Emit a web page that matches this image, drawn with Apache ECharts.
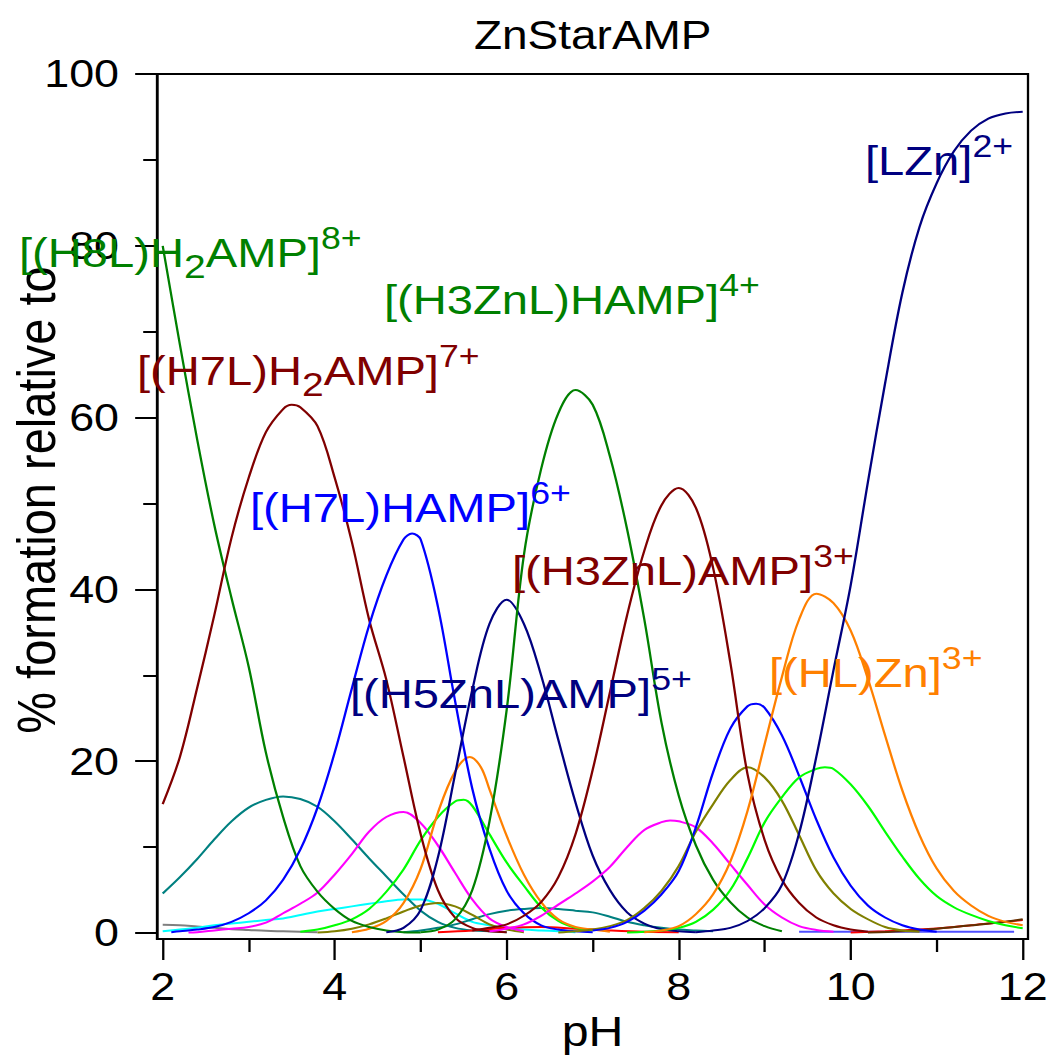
<!DOCTYPE html>
<html>
<head>
<meta charset="utf-8">
<script src="https://cdn.jsdelivr.net/npm/echarts@6/dist/echarts.min.js"></script>
<style>
  html, body { margin: 0; padding: 0; background: #fff; overflow: hidden; }
  /* the original picture is stretched sideways, so the chart is drawn narrower and widened */
  #chart { width: 915px; height: 1064px; transform: scaleX(1.14973); transform-origin: 0 0; }
</style>
</head>
<body>
<div id="chart"></div>
<script>
var SX = 1052 / 915;
function cx(x) { return x / SX; }
var FONT = "'Liberation Sans', Arial, sans-serif";

// axis ticks
var xMajor = [2, 4, 6, 8, 10, 12];
var xMinor = [3, 5, 7, 9, 11];
var yMajor = [0, 20, 40, 60, 80, 100];
var yMinor = [10, 30, 50, 70, 90];

// species curves, [pH, % formation]
var h8lH2amp = [[2.0,80],[2.2,68.5],[2.4,57.5],[2.6,47.5],[2.8,39],[3.0,31],[3.2,21],[3.4,13.5],[3.6,7.8],[3.8,4.8],[4.0,2.8],[4.2,1.4],[4.4,0.7],[4.6,0.3],[4.8,0.1],[5.0,0.05]];
var h7lH2amp = [[2.0,15],[2.2,20.5],[2.4,28.5],[2.6,37],[2.8,46],[3.0,53],[3.2,58.3],[3.4,61],[3.5,61.5],[3.6,61.2],[3.8,59],[4.0,53],[4.2,45.5],[4.4,36.5],[4.6,29.5],[4.8,20.5],[5.0,11.5],[5.2,5],[5.4,1.8],[5.6,0.6],[5.8,0.2],[6.0,0.1]];
var teal1 = [[2.0,4.6],[2.2,6.5],[2.4,8.6],[2.6,10.9],[2.8,13],[3.0,14.6],[3.2,15.5],[3.4,15.9],[3.6,15.6],[3.8,14.7],[4.0,13],[4.2,10.9],[4.4,8.7],[4.6,6.6],[4.8,4.5],[5.0,2.6],[5.2,1.3],[5.4,0.6],[5.6,0.3],[5.8,0.2],[6.0,0.1]];
var teal2 = [[4.8,0.1],[5.0,0.3],[5.2,0.6],[5.4,1.0],[5.6,1.6],[5.8,2.2],[6.0,2.6],[6.2,2.8],[6.4,2.9],[6.6,2.8],[6.8,2.6],[7.0,2.4],[7.2,1.9],[7.4,1.3],[7.6,0.9],[7.8,0.6],[8.0,0.4],[8.2,0.3],[8.4,0.2]];
var gray1 = [[2.0,0.95],[2.2,0.9],[2.4,0.75],[2.6,0.6],[2.8,0.45],[3.0,0.35],[3.2,0.25],[3.4,0.2],[3.6,0.15],[3.8,0.1]];
var h7lHamp = [[2.1,0.1],[2.2,0.2],[2.4,0.4],[2.6,0.7],[2.8,1.3],[3.0,2.3],[3.2,3.8],[3.4,6.2],[3.6,9.7],[3.8,14.6],[4.0,21],[4.2,28.5],[4.4,35.8],[4.6,41.6],[4.8,45.8],[4.9,46.5],[5.0,45.8],[5.2,38],[5.4,27],[5.6,16.8],[5.8,9.8],[6.0,4.9],[6.2,2.3],[6.4,0.9],[6.6,0.4],[6.8,0.2],[7.0,0.1]];
var magenta1 = [[2.3,0.05],[2.4,0.1],[2.6,0.3],[2.8,0.5],[3.0,0.7],[3.2,1.2],[3.4,2.3],[3.6,3.4],[3.8,4.7],[4.0,6.8],[4.2,9.2],[4.4,11.8],[4.6,13.5],[4.8,14.1],[5.0,12.8],[5.2,10.2],[5.4,7],[5.6,3.9],[5.8,1.7],[6.0,0.7],[6.2,0.2]];
var cyan1 = [[2.0,0.2],[2.2,0.4],[2.4,0.6],[2.6,0.9],[2.8,1.1],[3.0,1.3],[3.2,1.5],[3.4,1.7],[3.6,2.1],[3.8,2.5],[4.0,2.8],[4.2,3.1],[4.4,3.4],[4.6,3.7],[4.8,3.9],[5.0,3.9],[5.2,3.4],[5.4,2.3],[5.6,1.3],[5.8,0.9],[6.0,0.6],[6.2,0.4],[6.4,0.3],[6.6,0.2],[6.8,0.1]];
var lime1 = [[3.6,0.15],[3.8,0.4],[4.0,0.9],[4.2,1.6],[4.4,2.8],[4.6,4.8],[4.8,7.4],[5.0,10.8],[5.2,13.5],[5.4,15.3],[5.5,15.5],[5.6,14.8],[5.8,11.5],[6.0,8.2],[6.2,5.5],[6.4,3.0],[6.6,1.4],[6.8,0.6],[7.0,0.3]];
var orange1 = [[4.2,0.1],[4.4,0.5],[4.6,1.4],[4.8,3.5],[5.0,7.5],[5.2,14],[5.4,18.8],[5.57,20.5],[5.7,19.3],[5.8,16.7],[6.0,11.3],[6.2,6.8],[6.4,3.6],[6.6,1.6],[6.8,0.7],[7.0,0.4],[7.2,0.15]];
var olive1 = [[3.8,0.05],[4.0,0.2],[4.2,0.5],[4.4,1.0],[4.6,1.7],[4.8,2.5],[5.0,3.2],[5.2,3.5],[5.4,3.1],[5.6,2.1],[5.8,1.0],[6.0,0.4],[6.2,0.1]];
var h5znlAmp = [[4.6,0.1],[4.8,0.6],[5.0,2.7],[5.2,8.8],[5.4,18.5],[5.6,28.3],[5.8,36],[6.0,38.8],[6.2,36],[6.4,30],[6.6,22.5],[6.8,15.2],[7.0,9],[7.2,5.0],[7.4,2.4],[7.6,1.1],[7.8,0.45],[8.0,0.2],[8.2,0.1]];
var h3znlHamp = [[5.0,0.1],[5.2,0.4],[5.4,1.6],[5.6,5.0],[5.8,13],[6.0,26],[6.2,44],[6.4,54],[6.6,60.5],[6.8,63.2],[7.0,61.5],[7.2,55.5],[7.4,47],[7.6,36.5],[7.8,24.5],[8.0,16],[8.2,10.2],[8.4,6.2],[8.6,3.6],[8.8,1.8],[9.0,0.8],[9.2,0.2]];
var h3znlAmp = [[5.6,0.3],[5.8,0.6],[6.0,1.0],[6.2,2.0],[6.4,3.6],[6.6,6.5],[6.8,11.5],[7.0,19],[7.2,28],[7.4,37],[7.6,44.5],[7.8,49.8],[8.0,51.8],[8.2,49.5],[8.4,42.5],[8.6,31.5],[8.8,18.5],[9.0,10.8],[9.2,6.2],[9.4,3.5],[9.6,1.8],[9.8,0.9],[10.0,0.4],[10.2,0.15]];
var magenta2 = [[5.8,0.2],[6.0,0.5],[6.2,1.0],[6.4,2.0],[6.6,3.3],[6.8,4.6],[7.0,6.0],[7.2,7.7],[7.4,10.0],[7.6,12.0],[7.8,12.9],[7.9,13.1],[8.0,13.0],[8.2,12.3],[8.4,10.4],[8.6,8.0],[8.8,5.6],[9.0,3.3],[9.2,1.8],[9.4,0.8],[9.6,0.35],[9.8,0.15]];
var blue2 = [[7.0,0.3],[7.2,0.6],[7.4,1.3],[7.6,2.6],[7.8,4.5],[8.0,7.2],[8.2,12.3],[8.4,18.7],[8.6,23.8],[8.8,26.4],[8.9,26.7],[9.0,26.2],[9.2,23],[9.4,18.3],[9.6,13.2],[9.8,8.8],[10.0,5.5],[10.2,3.2],[10.4,1.8],[10.6,0.9],[10.8,0.4],[11.0,0.15]];
var olive2 = [[6.6,0.05],[6.8,0.2],[7.0,0.4],[7.2,0.8],[7.4,1.5],[7.6,2.9],[7.8,4.9],[8.0,7.8],[8.2,11.8],[8.4,15],[8.6,17.8],[8.8,19.3],[9.0,18.1],[9.2,15.4],[9.4,11.4],[9.6,7.3],[9.8,4.6],[10.0,2.8],[10.2,1.6],[10.4,0.7],[10.6,0.3],[10.8,0.15]];
var hlZn = [[7.6,0.1],[7.8,0.3],[8.0,0.8],[8.2,2.2],[8.4,4.5],[8.6,8.3],[8.8,14.2],[9.0,22],[9.2,29.8],[9.4,36.5],[9.6,39.5],[9.8,38.4],[10.0,35.2],[10.2,29.6],[10.4,23],[10.6,16.6],[10.8,11.4],[11.0,7.5],[11.2,4.9],[11.4,3.2],[11.6,2.0],[11.8,1.3],[12.0,0.9]];
var lime2 = [[7.4,0.05],[7.6,0.15],[7.8,0.3],[8.0,0.6],[8.2,1.3],[8.4,2.7],[8.6,5],[8.8,8.7],[9.0,12.9],[9.2,15.8],[9.4,18.1],[9.6,19.1],[9.7,19.3],[9.8,19.1],[10.0,17.3],[10.2,14.8],[10.4,11.8],[10.6,8.9],[10.8,6.3],[11.0,4.3],[11.2,3.0],[11.4,2.1],[11.6,1.4],[11.8,0.9],[12.0,0.55]];
var lZn = [[8.2,0.1],[8.4,0.3],[8.6,0.6],[8.8,1.4],[9.0,2.9],[9.2,5.6],[9.4,11.6],[9.6,20.5],[9.8,30.6],[10.0,40.5],[10.2,52.5],[10.4,64],[10.6,74.5],[10.8,82.2],[11.0,87.3],[11.2,91],[11.4,93.4],[11.6,94.8],[11.8,95.4],[12.0,95.6]];
var red1 = [[5.2,0.1],[5.6,0.3],[6.0,0.6],[6.4,0.7],[6.8,0.5],[7.2,0.3],[7.6,0.15],[8.0,0.1]];
var red2 = [[10.0,0.05],[10.4,0.2],[10.8,0.4],[11.2,0.7],[11.6,1.1],[12.0,1.5]];
var brown1 = [[10.2,0.05],[10.6,0.2],[11.0,0.5],[11.4,0.9],[11.8,1.3],[12.0,1.6]];
var lightBlue1 = [[9.4,0.15],[10.0,0.15],[10.6,0.15],[11.2,0.15],[11.9,0.15]];

// species labels: main text, subscript, rest, superscript
var labelTexts = [
    ["[(H8L)H", "2", "AMP]", "8+"],
    ["[(H3ZnL)HAMP]", "", "", "4+"],
    ["[(H7L)H", "2", "AMP]", "7+"],
    ["[(H7L)HAMP]", "", "", "6+"],
    ["[(H3ZnL)AMP]", "", "", "3+"],
    ["[(HL)Zn]", "", "", "3+"],
    ["[(H5ZnL)AMP]", "", "", "5+"],
    ["[LZn]", "", "", "2+"]
];
var labelColors = ["#008000", "#008000", "#800000", "#0000ff", "#800000", "#ff8000", "#000080", "#000080"];
// left edge and baseline of each label in page pixels
var labelPos = [[19, 267], [384, 314], [137, 385], [250, 522], [512, 585], [769, 687], [350, 708], [865, 175]];
var yTitle = "% formation relative to";

var curves = [
    [gray1, "#808080"], [cyan1, "#00ffff"], [teal1, "#008080"], [teal2, "#008080"],
    [olive1, "#808000"], [red1, "#ff0000"], [lightBlue1, "#5050ff"], [red2, "#ff0000"], [brown1, "#603000"],
    [magenta1, "#ff00ff"], [lime1, "#00ff00"], [orange1, "#ff8000"],
    [h8lH2amp, "#008000"], [h7lH2amp, "#800000"], [h7lHamp, "#0000ff"], [h5znlAmp, "#000080"],
    [magenta2, "#ff00ff"], [olive2, "#808000"], [blue2, "#0000ff"], [lime2, "#00ff00"],
    [h3znlHamp, "#008000"], [h3znlAmp, "#800000"], [hlZn, "#ff8000"], [lZn, "#000080"]
];

var X_MIN = 2 - 5.7 / 86, X_MAX = 12 + 5.3 / 86;
var Y_MIN = -6 / 8.59, Y_MAX = 100;

var series = curves.map(function (c) {
    return {
        type: "line",
        data: c[0],
        showSymbol: false,
        smooth: 0.35,
        silent: true,
        lineStyle: { color: c[1], width: 2 },
        itemStyle: { color: c[1] }
    };
});

var graphics = labelTexts.map(function (t, i) {
    var txt = "{m|" + t[0] + "}";
    if (t[1]) txt += "{sub|" + t[1] + "}";
    if (t[2]) txt += "{m|" + t[2] + "}";
    txt += "{sup|" + t[3] + "}";
    var col = labelColors[i];
    return {
        type: "text",
        x: cx(labelPos[i][0]),
        y: labelPos[i][1] - 44,
        silent: true,
        z: 100,
        style: {
            text: txt,
            fill: col,
            fontFamily: FONT,
            fontSize: 41,
            align: "left",
            verticalAlign: "top",
            rich: {
                m: { fontSize: 41, lineHeight: 60, fill: col, fontFamily: FONT },
                sub: { fontSize: 34, lineHeight: 42, verticalAlign: "bottom", fill: col, fontFamily: FONT },
                sup: { fontSize: 31, lineHeight: 30, verticalAlign: "top", fill: col, fontFamily: FONT }
            }
        }
    };
});

// y axis title, turned to read upwards
graphics.push({
    type: "text",
    x: cx(36),
    y: 500,
    rotation: Math.PI / 2,
    silent: true,
    style: {
        text: yTitle,
        fill: "#000",
        fontFamily: FONT,
        fontSize: 47,
        align: "center",
        verticalAlign: "middle"
    }
});

var tickStyle = { color: "#000", width: 2 };

var option = {
    animation: false,
    backgroundColor: "#fff",
    textStyle: { fontFamily: FONT },
    title: {
        text: "ZnStarAMP",
        left: cx(587),
        top: 10,
        textAlign: "center",
        textStyle: { fontSize: 40, fontWeight: "normal", color: "#000", fontFamily: FONT }
    },
    grid: {
        left: cx(157),
        right: 915 - cx(1028),
        top: 74,
        bottom: 125,
        show: true,
        borderColor: "#000",
        borderWidth: 2,
        containLabel: false,
        outerBoundsMode: "none"
    },
    xAxis: [{
        type: "value",
        min: X_MIN,
        max: X_MAX,
        name: "pH",
        nameLocation: "middle",
        nameGap: 62,
        nameTextStyle: { fontSize: 42, color: "#000", fontFamily: FONT },
        axisLine: { show: true, onZero: false, lineStyle: tickStyle },
        axisTick: { show: true, customValues: xMajor, length: 21, lineStyle: tickStyle },
        axisLabel: { customValues: xMajor, fontSize: 39, color: "#000", margin: 28, fontFamily: FONT },
        splitLine: { show: false }
    }, {
        type: "value",
        min: X_MIN,
        max: X_MAX,
        position: "bottom",
        axisLine: { show: false, onZero: false },
        axisTick: { show: true, customValues: xMinor, length: 13, lineStyle: tickStyle },
        axisLabel: { show: false },
        splitLine: { show: false }
    }],
    yAxis: [{
        type: "value",
        min: Y_MIN,
        max: Y_MAX,
        axisLine: { show: true, onZero: false, lineStyle: tickStyle },
        axisTick: { show: true, customValues: yMajor, length: 19, lineStyle: tickStyle },
        axisLabel: { customValues: yMajor, fontSize: 39, color: "#000", margin: 33, fontFamily: FONT },
        splitLine: { show: false }
    }, {
        type: "value",
        min: Y_MIN,
        max: Y_MAX,
        position: "left",
        axisLine: { show: false, onZero: false },
        axisTick: { show: true, customValues: yMinor, length: 12, lineStyle: tickStyle },
        axisLabel: { show: false },
        splitLine: { show: false }
    }],
    graphic: graphics,
    series: series
};

var chart = echarts.init(document.getElementById("chart"), null, { renderer: "svg" });
chart.setOption(option);
</script>
</body>
</html>
